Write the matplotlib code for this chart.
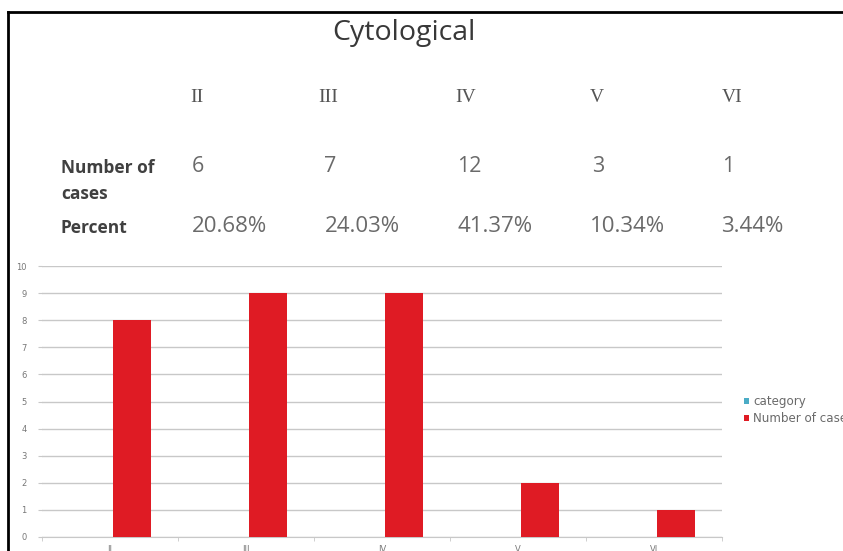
import matplotlib
matplotlib.use("Agg")
import matplotlib.pyplot as plt
import numpy as np

W, H = 843, 551

# table data above the chart
stages = ["II", "III", "IV", "V", "VI"]
n_cases = ["6", "7", "12", "3", "1"]
percents = ["20.68%", "24.03%", "41.37%", "10.34%", "3.44%"]

# bar chart data
bar_labels = ["II", "III", "IV", "V", "VI"]
category_vals = [0, 0, 0, 0, 0]
cases_vals = [8, 9, 9, 2, 1]

RED = "#df1b24"
BLUE = "#4bacc6"
GRID = "#c8c8c8"


def fx(x):
    return x / W


def fy(y):
    return 1 - y / H


fig = plt.figure(figsize=(W / 100, H / 100), dpi=100)
fig.patch.set_facecolor("white")

# black frame lines (top + left)
fig.add_artist(plt.Line2D([fx(8), fx(8)], [fy(12), fy(H)], color="black", linewidth=2))
fig.add_artist(plt.Line2D([fx(8), fx(W)], [fy(12), fy(12)], color="black", linewidth=2))

fig.text(fx(404), fy(33), "Cytological", ha="center", va="center",
         fontsize=20.5, family="Open Sans", color="#383838")

col_x = [190, 318, 455, 590, 722]
for x, s in zip(col_x, stages):
    fig.text(fx(x), fy(97), s, ha="left", va="center", fontsize=14,
             family="Liberation Serif", color="#555555")
num_x = [192, 324, 457, 592, 722]
for x, s in zip(num_x, n_cases):
    fig.text(fx(x), fy(167), s, ha="left", va="center", fontsize=15.5,
             family="Open Sans", color="#6a6a6a")
pct_x = [192, 325, 457, 590, 721]
for x, s in zip(pct_x, percents):
    fig.text(fx(x), fy(227), s, ha="left", va="center", fontsize=16,
             family="Open Sans", color="#6a6a6a")

lab_kw = dict(ha="left", va="center", fontsize=12.5, family="Open Sans",
              fontweight="bold", color="#404040")
fig.text(fx(61), fy(168), "Number of", **lab_kw)
fig.text(fx(61), fy(194), "cases", **lab_kw)
fig.text(fx(61), fy(228), "Percent", **lab_kw)

# chart area
left, right, top, bottom = 42, 722, 266, 537
ax = fig.add_axes([fx(left), fy(bottom), fx(right - left), (bottom - top) / H])

x = np.arange(len(bar_labels))
bw = 0.28
ax.bar(x - bw / 2 + 0.02, category_vals, width=bw, color=BLUE, label="category")
ax.bar(x + bw / 2 + 0.02, cases_vals, width=bw, color=RED, label="Number of cases", zorder=3)

ax.set_xlim(-0.5, len(bar_labels) - 0.5)
ax.set_ylim(0, 10)
ax.set_yticks(range(0, 11))
ax.yaxis.grid(True, color=GRID, linewidth=1.0)
ax.set_axisbelow(True)
for s in ["top", "right", "left"]:
    ax.spines[s].set_visible(False)
ax.spines["bottom"].set_color(GRID)
ax.tick_params(axis="y", length=3, color=GRID, labelsize=6, labelcolor="#777777", pad=8)
ax.set_xticks(x)
ax.set_xticklabels(bar_labels, fontsize=6, color="#777777")
ax.tick_params(axis="x", length=0, pad=6)
ax.set_xticks(np.arange(len(bar_labels) + 1) - 0.5, minor=True)
ax.tick_params(axis="x", which="minor", length=3, color=GRID)

leg = fig.legend(handles=ax.get_legend_handles_labels()[0],
                 labels=["category", "Number of cases"],
                 loc="upper left", bbox_to_anchor=(fx(744), fy(395)),
                 frameon=False, fontsize=8.6, handlelength=0.4, handleheight=0.4,
                 handletextpad=0.35, labelspacing=0.35, borderaxespad=0, borderpad=0)
for t in leg.get_texts():
    t.set_color("#6a6a6a")

fig.savefig("out.png", dpi=100, facecolor="white")
